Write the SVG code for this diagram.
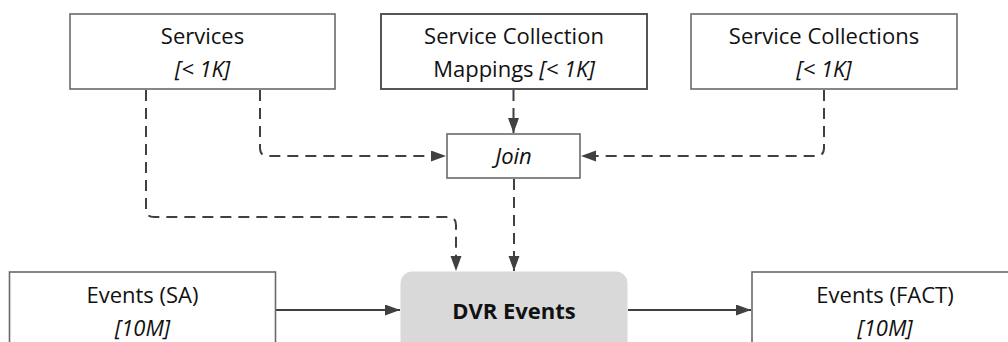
<svg xmlns="http://www.w3.org/2000/svg" width="1008" height="342" viewBox="0 0 1008 342">
  <style>
    .box { fill: #ffffff; stroke: #6a6a6a; stroke-width: 1.6; }
    .boxd { fill: #ffffff; stroke: #555555; stroke-width: 2; }
    .proc { fill: #d9d9d9; stroke: #d9d9d9; stroke-width: 1; }
    .t { font-family: "Open Sans", "Liberation Sans", Arial, sans-serif; font-size: 22px; fill: #111111; text-anchor: middle; }
    .i { font-style: italic; }
    .b { font-weight: bold; }
    .c { fill: none; stroke: #404040; stroke-width: 2; }
    .d { stroke-dasharray: 11 7; }
  </style>
  <defs>
    <marker id="arr" markerUnits="userSpaceOnUse" markerWidth="16" markerHeight="12" refX="15" refY="5.5" orient="auto">
      <path d="M0,0 L15,5.5 L0,11 Z" fill="#404040"/>
    </marker>
  </defs>

  <g id="connectors">
    <path class="c d" d="M513.5,90 V133" marker-end="url(#arr)"/>
    <path class="c d" d="M260,90 V148 Q260,156 268,156 H446" marker-end="url(#arr)"/>
    <path class="c d" d="M824,90 V148 Q824,156 816,156 H581" marker-end="url(#arr)"/>
    <path class="c d" d="M146,90 V209 Q146,217 154,217 H448 Q456,217 456,225 V271" marker-end="url(#arr)"/>
    <path class="c d" d="M514,179 V271" marker-end="url(#arr)"/>
    <path class="c" d="M276,310 H400" marker-end="url(#arr)"/>
    <path class="c" d="M628,310 H751" marker-end="url(#arr)"/>
  </g>

  <g id="services">
    <rect class="box" x="70" y="14" width="265" height="75"/>
    <text class="t" x="202.5" y="44">Services</text>
    <text class="t i" x="202.5" y="77">[&lt; 1K]</text>
  </g>

  <g id="service-collection-mappings">
    <rect class="boxd" x="381" y="14" width="266" height="75"/>
    <text class="t" x="514" y="44">Service Collection</text>
    <text class="t" x="514" y="77">Mappings <tspan class="i">[&lt; 1K]</tspan></text>
  </g>

  <g id="service-collections">
    <rect class="box" x="691" y="14" width="266" height="75"/>
    <text class="t" x="824" y="44">Service Collections</text>
    <text class="t i" x="824" y="77">[&lt; 1K]</text>
  </g>

  <g id="join">
    <rect class="box" x="447" y="134" width="133" height="44"/>
    <text class="t i" x="513.5" y="164">Join</text>
  </g>

  <g id="events-sa">
    <rect class="box" x="9.5" y="272" width="266" height="80"/>
    <text class="t" x="142.5" y="303">Events (SA)</text>
    <text class="t i" x="142.5" y="336">[10M]</text>
  </g>

  <g id="dvr-events">
    <rect class="proc" x="401" y="272" width="226" height="85" rx="11" ry="11"/>
    <text class="t b" x="514" y="319" font-size="21">DVR Events</text>
  </g>

  <g id="events-fact">
    <rect class="box" x="752" y="272" width="266" height="80"/>
    <text class="t" x="885" y="303">Events (FACT)</text>
    <text class="t i" x="885" y="336">[10M]</text>
  </g>
</svg>
